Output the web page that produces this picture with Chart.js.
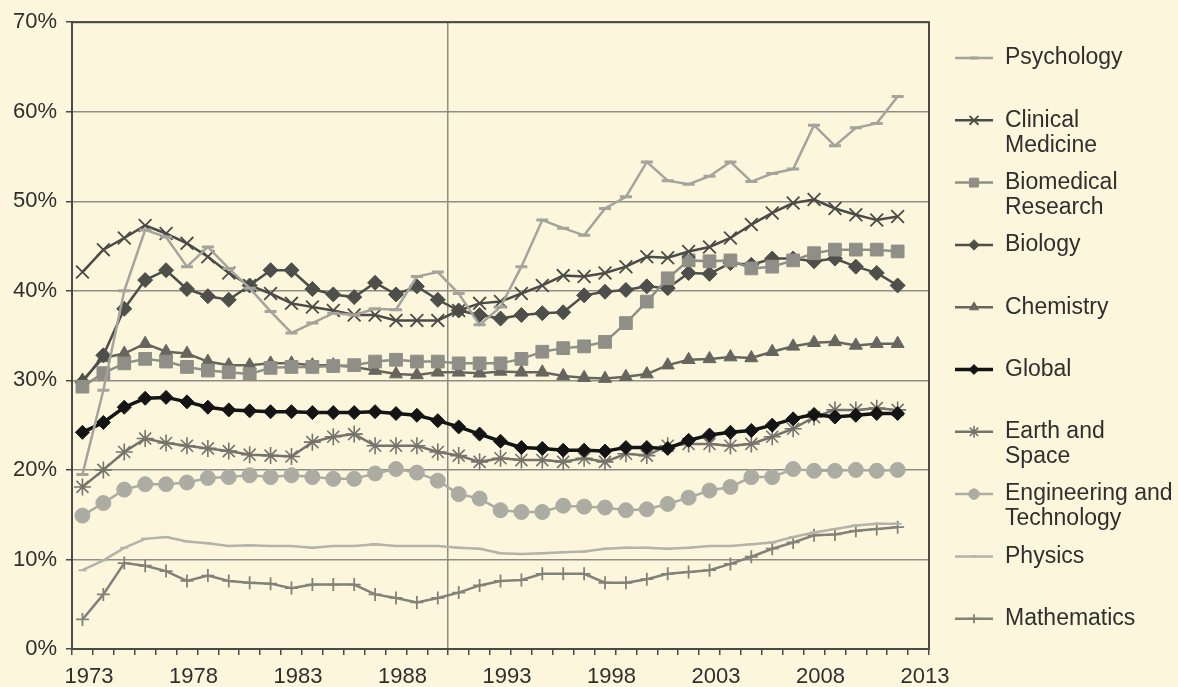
<!DOCTYPE html>
<html>
<head>
<meta charset="utf-8">
<title>Share of papers by field, 1973-2012</title>
<script src="https://cdn.jsdelivr.net/npm/chart.js@4/dist/chart.umd.min.js"></script>
<style>
  html, body { margin: 0; padding: 0; background: #fbf6dc; }
  #wrap { width: 1178px; height: 687px; position: relative; }
</style>
</head>
<body>
<div id="wrap"><canvas id="chart"></canvas></div>
<script>
// Years on the x axis
const years = [1973, 1974, 1975, 1976, 1977, 1978, 1979, 1980, 1981, 1982,
  1983, 1984, 1985, 1986, 1987, 1988, 1989, 1990, 1991, 1992,
  1993, 1994, 1995, 1996, 1997, 1998, 1999, 2000, 2001, 2002,
  2003, 2004, 2005, 2006, 2007, 2008, 2009, 2010, 2011, 2012];

// Series values (%)
const psychology = [19.5, 28.9, 40.0, 46.8, 46.0, 42.7, 44.9, 42.5, 40.3, 37.7,
  35.3, 36.4, 37.5, 37.3, 38.0, 37.9, 41.6, 42.1, 39.7, 36.2,
  38.2, 42.7, 47.9, 47.0, 46.2, 49.2, 50.5, 54.4, 52.3, 51.9,
  52.8, 54.4, 52.2, 53.1, 53.6, 58.5, 56.2, 58.2, 58.7, 61.7];
const clinicalMedicine = [42.1, 44.6, 45.9, 47.3, 46.4, 45.3, 43.8, 42.0, 40.6, 39.7,
  38.6, 38.2, 37.8, 37.3, 37.3, 36.7, 36.7, 36.7, 37.8, 38.6,
  38.8, 39.7, 40.6, 41.7, 41.6, 42.0, 42.7, 43.8, 43.7, 44.4,
  44.9, 45.9, 47.4, 48.7, 49.8, 50.2, 49.2, 48.5, 47.9, 48.3];
const biomedical = [29.3, 30.8, 31.9, 32.4, 32.1, 31.5, 31.1, 30.9, 30.7, 31.4,
  31.5, 31.5, 31.6, 31.7, 32.1, 32.3, 32.1, 32.1, 31.9, 31.9,
  31.9, 32.4, 33.2, 33.6, 33.8, 34.3, 36.4, 38.8, 41.4, 43.4,
  43.3, 43.4, 42.5, 42.7, 43.4, 44.2, 44.6, 44.6, 44.6, 44.4];
const biology = [29.8, 32.8, 38.0, 41.2, 42.3, 40.2, 39.4, 39.0, 40.6, 42.3,
  42.3, 40.2, 39.6, 39.3, 40.9, 39.6, 40.5, 39.0, 37.8, 37.3,
  36.9, 37.3, 37.5, 37.6, 39.5, 39.9, 40.1, 40.5, 40.3, 42.0,
  41.9, 43.1, 42.9, 43.6, 43.6, 43.3, 43.6, 42.7, 42.0, 40.6];
const chemistry = [30.0, 32.5, 33.0, 34.1, 33.2, 33.0, 32.1, 31.7, 31.7, 31.9,
  31.9, 31.7, 31.7, 31.5, 31.1, 30.7, 30.6, 30.9, 30.9, 30.8,
  31.0, 30.9, 30.9, 30.5, 30.3, 30.2, 30.4, 30.7, 31.7, 32.3,
  32.4, 32.6, 32.5, 33.2, 33.8, 34.2, 34.3, 33.9, 34.1, 34.1];
const globalShare = [24.2, 25.3, 27.0, 28.0, 28.1, 27.6, 27.0, 26.7, 26.6, 26.5,
  26.5, 26.4, 26.4, 26.4, 26.5, 26.3, 26.1, 25.5, 24.8, 24.0,
  23.2, 22.5, 22.4, 22.2, 22.2, 22.1, 22.5, 22.5, 22.4, 23.3,
  23.9, 24.2, 24.4, 25.0, 25.7, 26.2, 25.9, 26.1, 26.3, 26.3];
const earthSpace = [18.1, 20.0, 22.0, 23.5, 23.0, 22.7, 22.4, 22.1, 21.7, 21.6,
  21.5, 23.1, 23.7, 24.0, 22.7, 22.7, 22.7, 22.0, 21.6, 20.9,
  21.3, 21.1, 21.1, 20.9, 21.3, 20.9, 21.8, 21.6, 22.7, 22.9,
  22.9, 22.7, 22.9, 23.7, 24.6, 25.9, 26.7, 26.7, 26.9, 26.7];
const engineering = [14.9, 16.3, 17.8, 18.4, 18.4, 18.6, 19.1, 19.2, 19.4, 19.2,
  19.4, 19.2, 19.0, 19.0, 19.6, 20.1, 19.7, 18.8, 17.3, 16.8,
  15.5, 15.3, 15.3, 16.0, 15.9, 15.8, 15.5, 15.6, 16.2, 16.9,
  17.7, 18.1, 19.2, 19.2, 20.1, 19.9, 19.9, 20.0, 19.9, 20.0];
const physics = [8.8, 9.9, 11.3, 12.3, 12.5, 12.0, 11.8, 11.5, 11.6, 11.5,
  11.5, 11.3, 11.5, 11.5, 11.7, 11.5, 11.5, 11.5, 11.3, 11.2,
  10.7, 10.6, 10.7, 10.8, 10.9, 11.2, 11.3, 11.3, 11.2, 11.3,
  11.5, 11.5, 11.7, 11.9, 12.5, 13.0, 13.4, 13.8, 14.0, 14.0];
const mathematics = [3.3, 6.1, 9.6, 9.3, 8.7, 7.6, 8.2, 7.6, 7.4, 7.3,
  6.8, 7.2, 7.2, 7.2, 6.1, 5.7, 5.2, 5.7, 6.3, 7.1,
  7.6, 7.7, 8.4, 8.4, 8.4, 7.4, 7.4, 7.8, 8.4, 8.6,
  8.8, 9.5, 10.3, 11.2, 11.9, 12.7, 12.8, 13.2, 13.4, 13.6];

// Legend names (line breaks as in the original legend)
const seriesNames = ['Psychology', 'Clinical\nMedicine', 'Biomedical\nResearch', 'Biology',
  'Chemistry', 'Global', 'Earth and\nSpace', 'Engineering and\nTechnology', 'Physics', 'Mathematics'];

// Axis ticks
const yTicks = [0, 10, 20, 30, 40, 50, 60, 70];
const xLabelYears = [1973, 1978, 1983, 1988, 1993, 1998, 2003, 2008, 2013];
const markerYear = 1990;

const seriesValues = [psychology, clinicalMedicine, biomedical, biology, chemistry,
  globalShare, earthSpace, engineering, physics, mathematics];

// style per series: colour, line width, marker, marker size
const styles = [
  { color: '#a4a49c', width: 2.5, point: 'line', r: 6, pw: 3 },
  { color: '#4b4b47', width: 2.5, point: 'crossRot', r: 9, pw: 1.8 },
  { color: '#8f8f87', width: 2.5, point: 'rect', r: 9, pw: 1 },
  { color: '#4e4e4a', width: 2.5, point: 'rectRot', r: 7.5, pw: 1 },
  { color: '#66665f', width: 2.5, point: 'triangle', r: 7.5, pw: 1 },
  { color: '#141414', width: 3.5, point: 'rectRot', r: 7, pw: 1 },
  { color: '#74746d', width: 2.5, point: 'star', r: 8.5, pw: 1.6 },
  { color: '#acaca3', width: 2.5, point: 'circle', r: 7.5, pw: 1 },
  { color: '#b3b3aa', width: 2.5, point: 'line', r: 4, pw: 2 },
  { color: '#82827a', width: 2.5, point: 'cross', r: 6.5, pw: 1.8 }
];

const datasets = seriesValues.map((vals, i) => ({
  label: seriesNames[i].replace('\n', ' '),
  // each point sits half a year before its tick, as in the original
  data: vals.map((v, j) => ({ x: years[j] - 0.5, y: v })),
  borderColor: styles[i].color,
  backgroundColor: styles[i].color,
  borderWidth: styles[i].width,
  pointStyle: styles[i].point,
  pointRadius: styles[i].r,
  pointBorderWidth: styles[i].pw,
  pointBackgroundColor: styles[i].color,
  pointBorderColor: styles[i].color,
  tension: 0
}));

// Frame round the plot area
const frame = {
  id: 'frame',
  beforeDatasetsDraw(chart) {
    const { ctx, chartArea: a } = chart;
    ctx.save();
    ctx.strokeStyle = '#4a4a46';
    ctx.lineWidth = 2;
    ctx.strokeRect(a.left, a.top, a.right - a.left, a.bottom - a.top);
    ctx.restore();
  }
};

// Legend on the right, line + marker + (possibly two-line) label
const sideLegend = {
  id: 'sideLegend',
  afterDraw(chart) {
    const ctx = chart.ctx;
    ctx.save();
    chart.data.datasets.forEach((ds, i) => {
      const y = 58 + i * 62.3;
      ctx.strokeStyle = ds.borderColor;
      ctx.fillStyle = ds.borderColor;
      ctx.lineWidth = ds.borderWidth;
      ctx.beginPath();
      ctx.moveTo(955, y);
      ctx.lineTo(993, y);
      ctx.stroke();
      ctx.lineWidth = ds.pointBorderWidth;
      Chart.helpers.drawPoint(ctx, {
        pointStyle: ds.pointStyle,
        radius: ds.pointRadius * 0.7,
        borderWidth: ds.pointBorderWidth,
        rotation: 0
      }, 974, y);
      ctx.fillStyle = '#2f2f2d';
      ctx.font = '23px "Liberation Sans", Arial, sans-serif';
      ctx.textBaseline = 'middle';
      ctx.textAlign = 'left';
      seriesNames[i].split('\n').forEach((line, k) => {
        ctx.fillText(line, 1005, y + k * 25);
      });
    });
    ctx.restore();
  }
};

Chart.defaults.font.family = '"Liberation Sans", Arial, sans-serif';
Chart.defaults.font.size = 22;
Chart.defaults.color = '#2f2f2d';

new Chart(document.getElementById('chart'), {
  type: 'line',
  data: { datasets },
  options: {
    responsive: true,
    maintainAspectRatio: false,
    animation: false,
    layout: { padding: { top: 22, right: 249, left: 0, bottom: 0 } },
    plugins: {
      legend: { display: false },
      tooltip: { enabled: false }
    },
    scales: {
      x: {
        type: 'linear',
        min: 1972,
        max: 2013,
        afterFit: s => { s.height = 38; },
        afterBuildTicks: s => {
          s.ticks = [];
          for (let v = 1972; v <= 2013; v++) s.ticks.push({ value: v });
        },
        ticks: {
          autoSkip: false,
          maxRotation: 0,
          padding: 9,
          labelOffset: -4,
          callback: v => xLabelYears.includes(v) ? String(v) : ''
        },
        grid: {
          color: c => (c.tick && c.tick.value === markerYear) ? '#8d8d85' : 'rgba(0,0,0,0)',
          lineWidth: 1.5,
          tickColor: '#4a4a46',
          tickLength: 6,
          tickWidth: 1.5
        },
        border: { color: '#4a4a46', width: 2 }
      },
      y: {
        min: 0,
        max: 70,
        afterFit: s => { s.width = 72; },
        afterBuildTicks: s => { s.ticks = yTicks.map(v => ({ value: v })); },
        ticks: {
          padding: 9,
          callback: v => v + '%'
        },
        grid: {
          color: '#8d8d85',
          lineWidth: 1.5,
          tickColor: '#4a4a46',
          tickLength: 6,
          tickWidth: 1.5
        },
        border: { color: '#4a4a46', width: 2 }
      }
    }
  },
  plugins: [frame, sideLegend]
});
</script>
</body>
</html>
